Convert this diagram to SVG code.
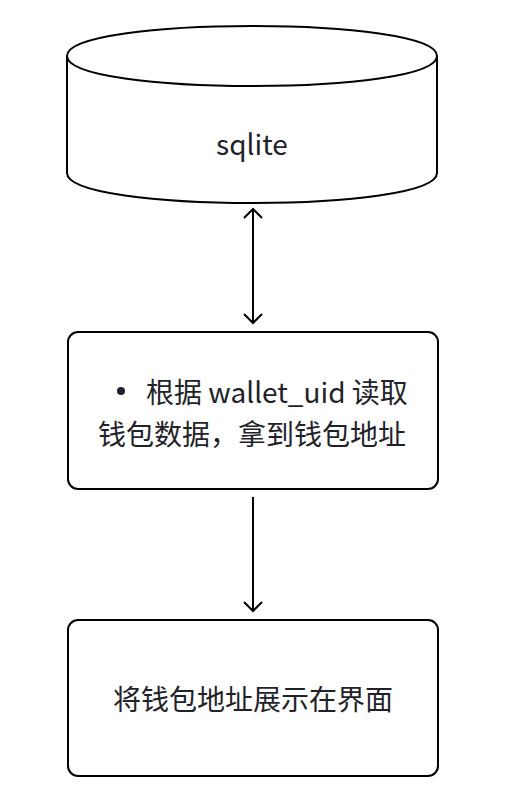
<svg xmlns="http://www.w3.org/2000/svg" width="520" height="808" viewBox="0 0 520 808">
<style>
.shape{fill:#fff;stroke:#000;stroke-width:2}
.conn{fill:none;stroke:#000;stroke-width:2}
.lbl{font-family:"Noto Sans CJK SC","Noto Sans",sans-serif;font-size:28px;fill:#1f2329}
</style>
<defs>
<marker id="ah" viewBox="0 0 20 20" refX="10" refY="10" markerWidth="20" markerHeight="20" markerUnits="userSpaceOnUse" orient="auto-start-reverse">
<path d="M1,1 L10,10 L1,19" fill="none" stroke="#000" stroke-width="2"/>
</marker>
</defs>
<rect width="520" height="808" fill="#fff"/>
<g id="sqlite">
<path class="shape" d="M67,56 C67,16 437,16 437,56 L437,173 C437,213 67,213 67,173 Z"/>
<path class="shape" fill="none" d="M67,56 C67,96 437,96 437,56"/>
<text class="lbl" x="252" y="155" text-anchor="middle">sqlite</text>
</g>
<g id="read">
<rect class="shape" x="68" y="332" width="370" height="157" rx="10"/>
<circle cx="121" cy="391" r="4" fill="#1f2329"/>
<text class="lbl" x="146" y="403">根据 wallet_uid 读取</text>
<text class="lbl" x="252" y="445" text-anchor="middle">钱包数据，拿到钱包地址</text>
</g>
<g id="show">
<rect class="shape" x="68" y="620" width="370" height="156" rx="10"/>
<text class="lbl" x="253" y="710" text-anchor="middle">将钱包地址展示在界面</text>
</g>
<g id="connectors">
<line class="conn" x1="253" y1="209" x2="253" y2="323" marker-start="url(#ah)" marker-end="url(#ah)"/>
<line class="conn" x1="253" y1="497" x2="253" y2="611" marker-end="url(#ah)"/>
</g>
</svg>
